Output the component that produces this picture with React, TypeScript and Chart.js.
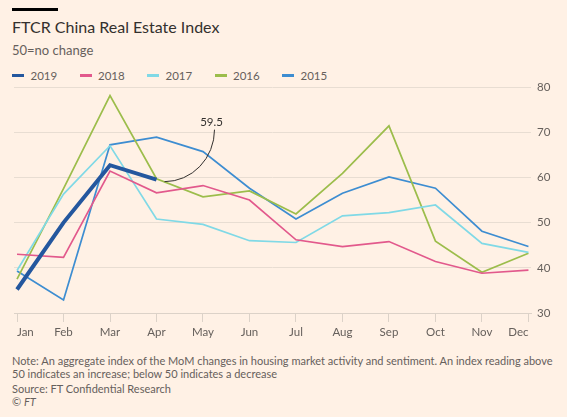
import React, { useEffect, useRef } from 'react';
import { Chart, registerables } from 'chart.js';

Chart.register(...registerables);

// ---- Data ----
const MONTHS = ['Jan', 'Feb', 'Mar', 'Apr', 'May', 'Jun', 'Jul', 'Aug', 'Sep', 'Oct', 'Nov', 'Dec'];
const Y_MIN = 30;
const Y_MAX = 80;
const Y_STEP = 10;

const SERIES_LABELS = ['2019', '2018', '2017', '2016', '2015'];
const SERIES_COLORS = ['#24579e', '#e2598c', '#80d9e6', '#9cbd4b', '#3d8dd1'];
const SERIES_WIDTHS = [4, 1.7, 1.7, 1.7, 1.7];

const V2019 = [35.2, 50.0, 62.7, 59.5];
const V2018 = [43.0, 42.3, 61.4, 56.6, 58.2, 55.0, 46.2, 44.7, 45.8, 41.4, 38.8, 39.5];
const V2017 = [39.4, 56.3, 67.0, 50.8, 49.6, 46.0, 45.6, 51.5, 52.2, 53.9, 45.4, 43.4];
const V2016 = [37.5, 57.5, 78.1, 59.7, 55.7, 57.0, 51.9, 60.9, 71.4, 45.9, 39.0, 43.2];
const V2015 = [39.3, 32.9, 67.2, 68.9, 65.7, 57.6, 50.8, 56.5, 60.1, 57.6, 48.1, 44.7];

const SERIES_VALUES = [V2019, V2018, V2017, V2016, V2015];

const TITLE = 'FTCR China Real Estate Index';
const SUBTITLE = '50=no change';
const NOTE_1 = 'Note: An aggregate index of the MoM changes in housing market activity and sentiment. An index reading above';
const NOTE_2 = '50 indicates an increase; below 50 indicates a decrease';
const SOURCE = 'Source: FT Confidential Research';

const BG = '#fff1e5';
const TEXT_DARK = '#33302e';
const TEXT_MUTED = '#66605c';
const FONT = 'Lato, "Open Sans", sans-serif';

const annotationPlugin = {
  id: 'lastValueAnnotation',
  afterDatasetsDraw(chart: any) {
    const meta = chart.getDatasetMeta(0);
    const idx = V2019.length - 1;
    const pt = meta.data[idx];
    if (!pt) return;
    const ctx = chart.ctx;
    ctx.save();
    ctx.strokeStyle = TEXT_DARK;
    ctx.lineWidth = 1;
    ctx.beginPath();
    ctx.ellipse(pt.x + 8, pt.y - 50, 50, 52, 0, 0, Math.PI / 2);
    ctx.stroke();
    ctx.fillStyle = TEXT_DARK;
    ctx.font = '11.5px ' + FONT;
    ctx.textAlign = 'center';
    ctx.textBaseline = 'alphabetic';
    ctx.fillText(V2019[idx].toFixed(1), pt.x + 55, pt.y - 54);
    ctx.restore();
  },
};

function ChartCanvas() {
  const ref = useRef<HTMLCanvasElement | null>(null);
  useEffect(() => {
    if (!ref.current) return;
    const datasets = SERIES_LABELS.map((label, i) => ({
      label,
      data: SERIES_VALUES[i].map((v, j) => ({ x: j, y: v })),
      borderColor: SERIES_COLORS[i],
      backgroundColor: SERIES_COLORS[i],
      borderWidth: SERIES_WIDTHS[i],
      pointRadius: 0,
      pointHoverRadius: 0,
      tension: 0,
      fill: false,
      borderJoinStyle: 'miter' as const,
      borderCapStyle: 'butt' as const,
    }));
    const chart = new Chart(ref.current, {
      type: 'line',
      data: { datasets },
      options: {
        animation: false,
        responsive: false,
        devicePixelRatio: 1,
        layout: { padding: { left: 14, right: 0, top: 17, bottom: 7 } },
        plugins: { legend: { display: false }, tooltip: { enabled: false } },
        scales: {
          x: {
            type: 'linear',
            min: -0.065,
            max: 11.055,
            afterBuildTicks: (scale: any) => {
              scale.ticks = MONTHS.map((_, i) => ({ value: i }));
            },
            afterFit: (scale: any) => {
              scale.height = 30;
            },
            ticks: {
              autoSkip: false,
              maxRotation: 0,
              align: 'inner',
              padding: 3,
              color: TEXT_MUTED,
              font: { family: FONT, size: 11.5 },
              callback: (v: any) => MONTHS[Math.round(Number(v))],
            },
            grid: {
              drawOnChartArea: false,
              drawTicks: true,
              tickLength: 9,
              color: '#dcd2c8',
            },
            border: { display: true, color: '#dcd2c8' },
          },
          y: {
            position: 'right',
            min: Y_MIN,
            max: Y_MAX,
            afterFit: (scale: any) => {
              scale.width = 36;
            },
            ticks: {
              stepSize: Y_STEP,
              padding: 6,
              color: TEXT_MUTED,
              font: { family: FONT, size: 11.5 },
            },
            grid: { color: '#e8ddd2', drawTicks: false },
            border: { display: false },
          },
        },
      },
      plugins: [annotationPlugin],
    } as any);
    return () => chart.destroy();
  }, []);
  return (
    <canvas
      ref={ref}
      width={567}
      height={280}
      style={{ position: 'absolute', left: 0, top: 70, width: 567, height: 280 }}
    />
  );
}

export default function App() {
  useEffect(() => {
    document.body.style.margin = '0';
    document.body.style.background = BG;
  }, []);
  const abs = (top: number, left: number, size: number, color: string, extra: any = {}) => ({
    position: 'absolute' as const,
    top,
    left,
    fontSize: size,
    lineHeight: '1.2',
    color,
    fontFamily: FONT,
    whiteSpace: 'nowrap' as const,
    margin: 0,
    ...extra,
  });
  return (
    <div style={{ position: 'relative', width: 567, height: 417, background: BG, overflow: 'hidden' }}>
      <div style={{ position: 'absolute', left: 12, top: 8, width: 46, height: 3, background: '#000' }} />
      <div style={abs(16.8, 12, 16, TEXT_DARK)}>{TITLE}</div>
      <div style={abs(43.2, 12, 13, TEXT_MUTED)}>{SUBTITLE}</div>
      {SERIES_LABELS.map((label, i) => (
        <div key={label}>
          <div
            style={{
              position: 'absolute',
              left: 12 + i * 67.5,
              top: 74,
              width: 12,
              height: 3,
              background: SERIES_COLORS[i],
            }}
          />
          <div style={abs(68.6, 30.5 + i * 67.5, 11.5, TEXT_MUTED)}>{label}</div>
        </div>
      ))}
      <ChartCanvas />
      <div style={abs(354.2, 12, 11, TEXT_MUTED)}>{NOTE_1}</div>
      <div style={abs(366.5, 12, 11, TEXT_MUTED)}>{NOTE_2}</div>
      <div style={abs(381.5, 12, 11, TEXT_MUTED)}>{SOURCE}</div>
      <div style={abs(394.7, 12, 11, TEXT_MUTED)}>
        © <i>FT</i>
      </div>
    </div>
  );
}
